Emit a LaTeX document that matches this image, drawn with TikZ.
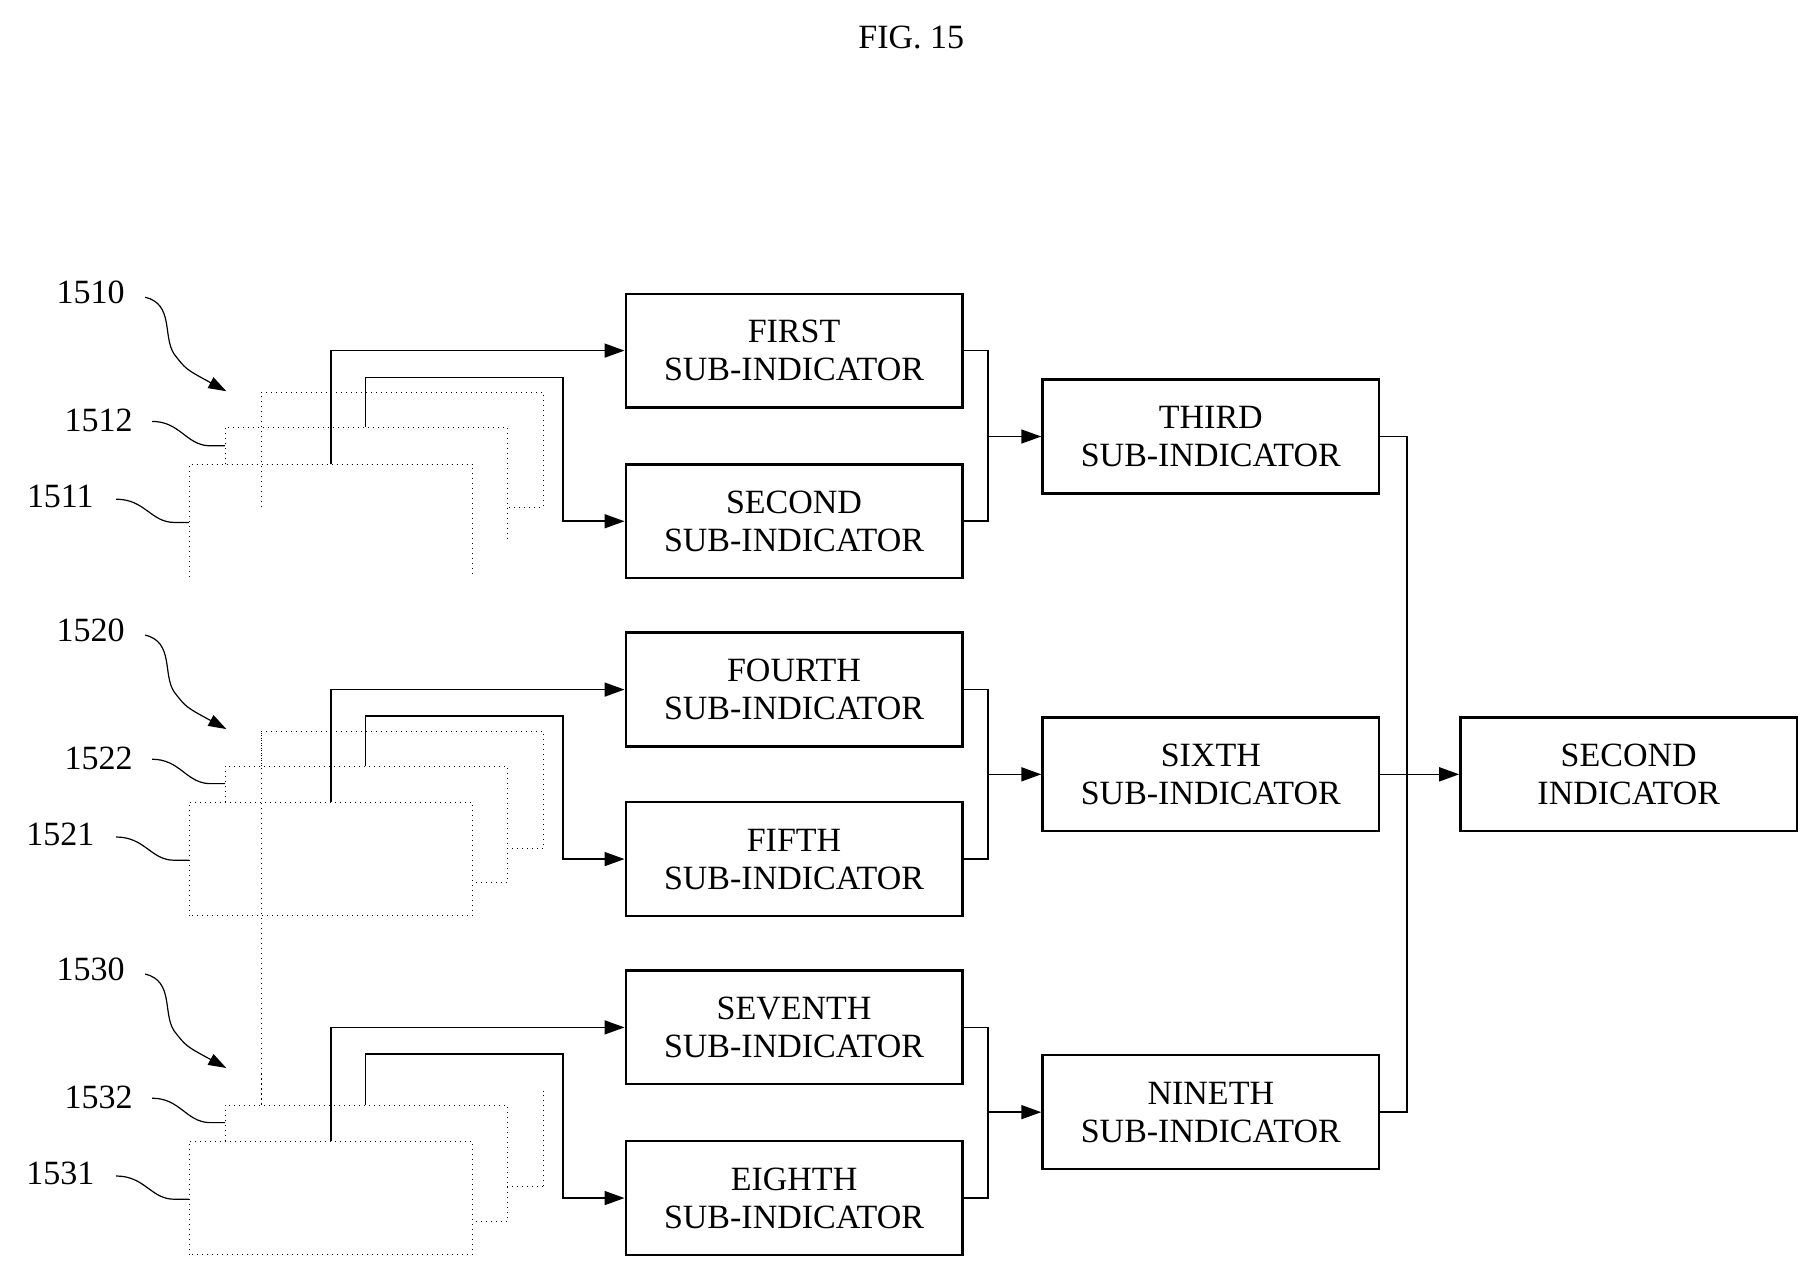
\documentclass[tikz,border=0pt]{standalone}
\usepackage{fontspec}
\setmainfont{Liberation Serif}
\usetikzlibrary{arrows.meta,calc}
\begin{document}
\begin{tikzpicture}[x=0.5805pt,y=-0.5805pt,
  box/.style={draw,line width=1.2pt,minimum width=290*0.5805pt,minimum height=98*0.5805pt,align=center,font=\fontsize{17}{19}\selectfont,inner sep=0pt},
  sheet/.style={draw,dotted,line width=0.5pt},
  conn/.style={draw,line width=0.8pt},
  arr/.style={conn,-{Triangle[length=10pt,width=7pt]}},
  lab/.style={font=\fontsize{17}{19}\selectfont},
  sq/.style={line width=0.6pt}]
\useasboundingbox (0,0) rectangle (1560,1096);
\node[lab] (title) at (785,32) {FIG. 15};
\node[box] (b1) at (684,302) {FIRST\\SUB-INDICATOR};
\node[box] (b2) at (684,449) {SECOND\\SUB-INDICATOR};
\node[box] (b4) at (684,594) {FOURTH\\SUB-INDICATOR};
\node[box] (b5) at (684,740) {FIFTH\\SUB-INDICATOR};
\node[box] (b7) at (684,885) {SEVENTH\\SUB-INDICATOR};
\node[box] (b8) at (684,1032) {EIGHTH\\SUB-INDICATOR};
\node[box] (b3) at (1043,376) {THIRD\\SUB-INDICATOR};
\node[box] (b6) at (1043,667) {SIXTH\\SUB-INDICATOR};
\node[box] (b9) at (1043,958) {NINETH\\SUB-INDICATOR};
\node[box] (si) at (1403,667) {SECOND\\INDICATOR};
% merges column 1 -> column 2
\foreach \a/\b/\c in {b1/b2/b3,b4/b5/b6,b7/b8/b9}{
  \coordinate (j\c) at ($(\c.west)+(-46,0)$);
  \draw[conn] (\a.east) -| (j\c) |- (\b.east);
  \draw[arr] (j\c) -- (\c.west);
}
% column 2 -> second indicator
\coordinate (jsi) at ($(si.west)+(-45,0)$);
\draw[conn] (b3.east) -| (jsi) |- (b9.east);
\draw[conn] (b6.east) -- (jsi);
\draw[arr] (jsi) -- (si.west);
% sheet groups
\foreach \g/\oy/\ta/\tb in {1/0/b1/b2,2/291/b4/b5,3/583/b7/b8}{
  \begin{scope}[yshift=-\oy*0.5805pt]
    \ifnum\g=1
      \draw[sheet] (225,437) |- (468,338) -- (468,437) -- (437,437);
      \draw[sheet] (194,400) |- (437,368) -- (437,466);
      \draw[sheet] (163,497) |- (407,400) -- (407,497);
    \fi
    \ifnum\g=2
      \draw[sheet] (225,660) -- (225,338-0) ;
    \fi
  \end{scope}
}
% group 1
\coordinate (s1a) at (285,400); \coordinate (s1b) at (315,368);
\draw[sheet] (225,368) |- (468,338) -- (468,437) -- (437,437);
\draw[sheet] (194,400) |- (437,368) -- (437,466);
\draw[sheet] (163,497) |- (407,400) -- (407,497);
\draw[arr] (s1a) |- (b1.west);
\draw[arr] (s1b) |- (485,325) |- (b2.west);
% group 2
\coordinate (s2a) at (285,691); \coordinate (s2b) at (315,660);
\draw[sheet] (225,660) |- (468,630) -- (468,731) -- (437,731);
\draw[sheet] (194,691) |- (437,660) -- (437,760) -- (407,760);
\draw[sheet] (163,789) |- (407,691) -- (407,789) -- cycle;
\draw[arr] (s2a) |- (b4.west);
\draw[arr] (s2b) |- (485,617) |- (b5.west);
% group 3
\coordinate (s3a) at (285,983); \coordinate (s3b) at (315,952);
\draw[sheet] (225,952) -- (225,922);
\draw[sheet] (468,1022) -- (437,1022);
\draw[sheet] (468,1022) -- (468,940);
\draw[sheet] (194,983) |- (437,952) -- (437,1052) -- (407,1052);
\draw[sheet] (163,1081) |- (407,983) -- (407,1081) -- cycle;
\draw[arr] (s3a) |- (b7.west);
\draw[arr] (s3b) |- (485,908) |- (b8.west);
% labels
\foreach \n/\oy in {0/0,1/291,2/583}{
  \pgfmathtruncatemacro{\k}{1510+10*\n}
  \pgfmathtruncatemacro{\kb}{\k+2}
  \pgfmathtruncatemacro{\ka}{\k+1}
  \node[lab] (L\k) at (78,252+\oy) {\k};
  \node[lab] (L\kb) at (85,362+\oy) {\kb};
  \node[lab] (L\ka) at (52,428+\oy) {\ka};
  \draw[sq,-{Triangle[length=9pt,width=6pt]}] (125,256+\oy) .. controls (150,262+\oy) and (140,290+\oy) .. (150,305+\oy) .. controls (160,318+\oy) .. (195,337+\oy);
  \draw[sq] (131,363+\oy) .. controls (155,363+\oy) and (160,383+\oy) .. (180,384+\oy) -- (194,384+\oy);
  \draw[sq] (100,430+\oy) .. controls (125,430+\oy) and (130,450+\oy) .. (150,450+\oy) -- (163,450+\oy);
}
\end{tikzpicture}
\end{document}
